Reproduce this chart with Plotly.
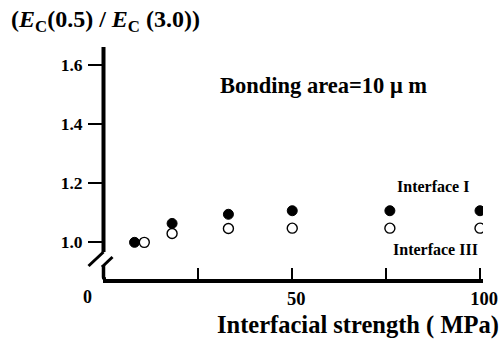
import plotly.graph_objects as go

# Data
x_if1 = [8, 18, 33, 50, 76, 100]
y_if1 = [1.0, 1.064, 1.095, 1.107, 1.107, 1.107]
x_if3 = [10.6, 18, 33, 50, 76, 100]
y_if3 = [1.0, 1.03, 1.047, 1.048, 1.048, 1.048]

xtick_vals = [50, 100]
xtick_text = ["50", "100"]
xminor_vals = [25, 75]
ytick_vals = [1.0, 1.2, 1.4, 1.6]
ytick_text = ["1.0", "1.2", "1.4", "1.6"]

W, H = 503, 340
L, R, T, B = 103, 20, 47, 61
PW, PH = W - L - R, H - T - B

def px(xp):
    return (xp - L) / PW

def py(yp):
    return (H - B - yp) / PH

FONT = "Liberation Serif"

fig = go.Figure()
fig.add_trace(go.Scatter(x=x_if1, y=y_if1, mode="markers",
                         marker=dict(symbol="circle", size=10, color="black",
                                     line=dict(color="black", width=1)),
                         showlegend=False))
fig.add_trace(go.Scatter(x=x_if3, y=y_if3, mode="markers",
                         marker=dict(symbol="circle-open", size=10, color="black",
                                     line=dict(color="black", width=1.4)),
                         showlegend=False))

shapes = []
# y axis line with break
shapes.append(dict(type="line", xref="paper", yref="paper",
                   x0=px(103.5), x1=px(103.5), y0=py(47), y1=py(252),
                   line=dict(color="black", width=4)))
shapes.append(dict(type="line", xref="paper", yref="paper",
                   x0=px(88.5), y0=py(266), x1=px(103.5), y1=py(252),
                   line=dict(color="black", width=3)))
shapes.append(dict(type="line", xref="paper", yref="paper",
                   x0=px(102), y0=py(267), x1=px(112.5), y1=py(257),
                   line=dict(color="black", width=3)))
shapes.append(dict(type="path", xref="paper", yref="paper",
                   path=f"M {px(103.5)},{py(265)} L {px(103.5)},{py(277)} Q {px(103.5)},{py(279)} {px(106)},{py(279)}",
                   line=dict(color="black", width=3.5)))
fig.update_layout(shapes=shapes)

ann = [
    dict(text="<b>(<i>E</i><sub>C</sub>(0.5) / <i>E</i><sub>C</sub> (3.0))</b>",
         x=px(9), y=py(21), xanchor="left", yanchor="middle",
         font=dict(size=24, family=FONT, color="black"), showarrow=False,
         xref="paper", yref="paper"),
    dict(text="<b>Bonding area=10 μ m</b>", x=px(218), y=py(85),
         xanchor="left", yanchor="middle",
         font=dict(size=22.5, family=FONT, color="black"), showarrow=False,
         xref="paper", yref="paper"),
    dict(text="<b>Interface I</b>", x=px(471), y=py(186),
         xanchor="right", yanchor="middle",
         font=dict(size=16, family=FONT, color="black"), showarrow=False,
         xref="paper", yref="paper"),
    dict(text="<b>Interface III</b>", x=px(480), y=py(249),
         xanchor="right", yanchor="middle",
         font=dict(size=16, family=FONT, color="black"), showarrow=False,
         xref="paper", yref="paper"),
    dict(text="<b>0</b>", x=px(87), y=py(297),
         xanchor="center", yanchor="middle",
         font=dict(size=18, family=FONT, color="black"), showarrow=False,
         xref="paper", yref="paper"),
    dict(text="<b>Interfacial strength ( MPa)</b>", x=px(501), y=py(325),
         xanchor="right", yanchor="middle",
         font=dict(size=24.5, family=FONT, color="black"), showarrow=False,
         xref="paper", yref="paper"),
]
fig.update_layout(annotations=ann)

fig.update_xaxes(range=[-0.4, 100.8], showgrid=False, zeroline=False,
                 showline=True, linecolor="black", linewidth=3.5, automargin=False,
                 ticks="inside", ticklen=11, tickwidth=2.2, tickcolor="black",
                 tickvals=xtick_vals, ticktext=[f"<b>{t}</b>" for t in xtick_text],
                 tickfont=dict(size=18.5, family=FONT, color="black"),
                 ticklabelstandoff=0, ticklabelshift=4,
                 minor=dict(tickvals=xminor_vals, ticks="inside", ticklen=11,
                            tickwidth=2.2, tickcolor="black", showgrid=False))
fig.update_yaxes(range=[0.876, 1.661], showgrid=False, zeroline=False,
                 showline=False, automargin=False,
                 ticks="outside", ticklen=14, tickwidth=2.2, tickcolor="black",
                 tickvals=ytick_vals, ticktext=[f"<b>{t}</b>" for t in ytick_text],
                 tickfont=dict(size=17.5, family=FONT, color="black"),
                 ticklabelstandoff=2)

fig.update_layout(width=W, height=H, margin=dict(l=L, r=R, t=T, b=B, autoexpand=False),
                  plot_bgcolor="white", paper_bgcolor="white")

fig.write_html("out.html")
